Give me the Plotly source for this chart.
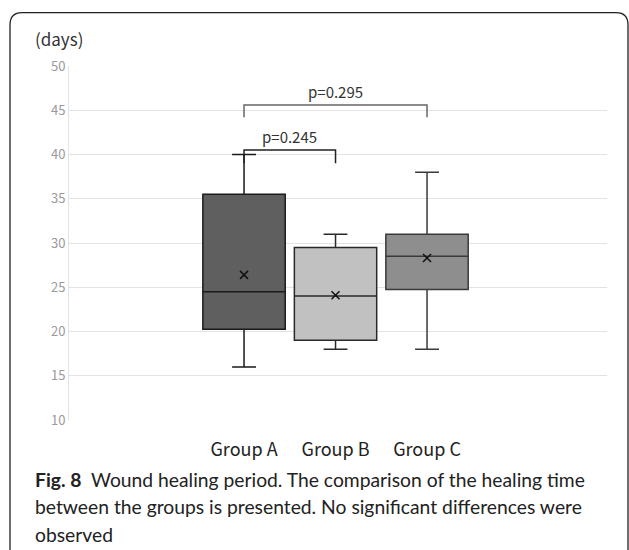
import plotly.graph_objects as go

groups = ["Group A", "Group B", "Group C"]
positions = [0, 1, 2]
lower_whisker = [16, 18, 18]
q1 = [20.25, 19.0, 24.75]
median = [24.5, 24.0, 28.5]
q3 = [35.5, 29.5, 31.0]
upper_whisker = [40, 31, 38]
means = [26.4, 24.1, 28.3]
fill_colors = ["#5f5f5f", "#c1c1c1", "#8e8e8e"]
line_colors = ["#1a1a1a", "#2a2a2a", "#3a3a3a"]
y_ticks = [10, 15, 20, 25, 30, 35, 40, 45, 50]
comparisons = [(0, 1, 40.5, 39.0, "p=0.245", "#222222"),
               (0, 2, 45.6, 44.2, "p=0.295", "#666666")]

W, H = 629, 550
L, R, T, B = 69, 607, 66, 420

def px(xp):
    return (xp - L) / (R - L)

def py(yp):
    return (B - yp) / (B - T)

fig = go.Figure()
for i in range(3):
    fig.add_trace(go.Box(
        x=[positions[i]], q1=[q1[i]], median=[median[i]], q3=[q3[i]],
        lowerfence=[lower_whisker[i]], upperfence=[upper_whisker[i]],
        fillcolor=fill_colors[i], line=dict(color=line_colors[i], width=1.5),
        width=0.9, whiskerwidth=0.29, boxpoints=False, showlegend=False,
        hoverinfo="skip",
    ))
fig.add_trace(go.Scatter(
    x=positions, y=means, mode="markers", showlegend=False,
    marker=dict(symbol="x-thin", size=8, line=dict(color="#111111", width=1.5)),
    hoverinfo="skip",
))

shapes = []
annotations = []
for a, b, yh, yl, label, col in comparisons:
    shapes.append(dict(type="path", xref="x", yref="y",
                       path=f"M {positions[a]},{yl} L {positions[a]},{yh} L {positions[b]},{yh} L {positions[b]},{yl}",
                       line=dict(color=col, width=1.5)))
    annotations.append(dict(x=(positions[a] + positions[b]) / 2, y=yh, xref="x", yref="y",
                            text=label, showarrow=False, yanchor="bottom", yshift=1,
                            font=dict(family="Noto Sans CJK JP", size=15, color="#333333")))

# frame
shapes.append(dict(type="path", xref="paper", yref="paper",
                   path=(f"M {px(10)},{py(560)} L {px(10)},{py(25)} "
                         f"Q {px(10)},{py(12.7)} {px(22)},{py(12.7)} "
                         f"L {px(616)},{py(12.7)} Q {px(628)},{py(12.7)} {px(628)},{py(25)} "
                         f"L {px(628)},{py(560)}"),
                   line=dict(color="#222222", width=1.3)))

annotations.append(dict(x=px(33), y=py(38), xref="paper", yref="paper", text="(days)",
                        showarrow=False, xanchor="left", yanchor="middle",
                        font=dict(family="Noto Sans CJK JP", size=17, color="#333333")))

caption = ["<b>Fig. 8</b>  Wound healing period. The comparison of the healing time",
           "between the groups is presented. No significant differences were",
           "observed"]
for k, line in enumerate(caption):
    annotations.append(dict(x=px(33), y=py(479 + 27.5 * k), xref="paper", yref="paper", text=line,
                            showarrow=False, xanchor="left", yanchor="middle",
                            font=dict(family="Lato", size=19.3, color="#222222")))

fig.update_layout(
    width=W, height=H, margin=dict(l=L, r=W - R, t=T, b=H - B),
    paper_bgcolor="white", plot_bgcolor="white",
    shapes=shapes, annotations=annotations,
    xaxis=dict(range=[-1.913, 3.967], tickvals=positions, ticktext=groups,
               showgrid=False, zeroline=False, showline=False, ticks="",
               ticklabelstandoff=17,
               tickfont=dict(family="Noto Sans CJK JP", size=18, color="#222222")),
    yaxis=dict(range=[10, 50], tickvals=y_ticks, showgrid=True, gridcolor="#e3e3e3",
               gridwidth=1, zeroline=False, showline=True, linecolor="#e3e3e3",
               ticks="", tickfont=dict(family="Noto Sans CJK JP", size=13, color="#9a9a9a")),
)

fig.write_html("out.html", config={"displayModeBar": False},
               post_script="document.body.style.margin='0';document.body.style.overflow='hidden';")
